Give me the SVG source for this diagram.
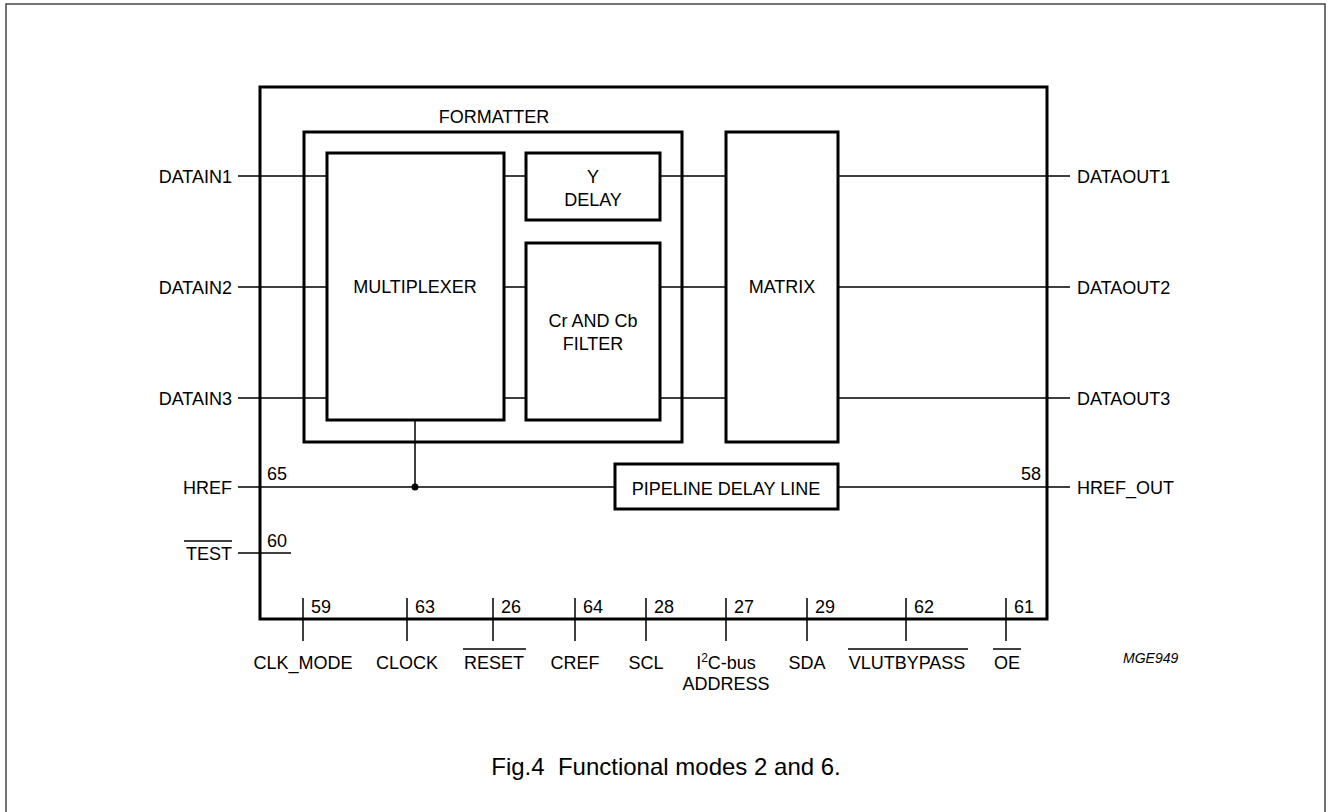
<svg xmlns="http://www.w3.org/2000/svg" width="1328" height="812" viewBox="0 0 1328 812">
<style>
text{font-family:"Liberation Sans",Arial,sans-serif;font-size:18px;fill:#000}
.box{fill:none;stroke:#000;stroke-width:3}
.w{fill:none;stroke:#000;stroke-width:1.5}
.c{text-anchor:middle}
.e{text-anchor:end}
.ol{stroke:#000;stroke-width:1.5}
</style>
<rect x="6" y="4" width="1319" height="820" fill="#fff" stroke="#444" stroke-width="1.5"/>
<g id="chip"><rect class="box" x="260" y="87" width="787" height="532"/></g>
<g id="formatter"><rect class="box" x="304" y="132" width="378" height="310"/><text class="c" x="494" y="123">FORMATTER</text></g>
<g id="multiplexer"><rect class="box" x="327" y="153" width="177" height="267"/><text class="c" x="415" y="293">MULTIPLEXER</text></g>
<g id="ydelay"><rect class="box" x="526" y="153" width="134" height="67"/><text class="c" x="593" y="183">Y</text><text class="c" x="593" y="206">DELAY</text></g>
<g id="filter"><rect class="box" x="526" y="243" width="134" height="177"/><text class="c" x="593" y="327">Cr AND Cb</text><text class="c" x="593" y="350">FILTER</text></g>
<g id="matrix"><rect class="box" x="726" y="132" width="112" height="310"/><text class="c" x="782" y="293">MATRIX</text></g>
<g id="pipeline"><rect class="box" x="615" y="464" width="223" height="45"/><text class="c" x="726" y="495">PIPELINE DELAY LINE</text></g>
<g id="connectors">
<path class="w" d="M238 176H327M238 287H327M238 398H327M504 176H526M504 287H526M504 398H526M660 176H726M660 287H726M660 398H726M838 176H1070M838 287H1070M838 398H1070M238 487H615M838 487H1070M415 420V487M238 553H291"/>
<circle cx="415" cy="487" r="3.5" fill="#000"/>
<path class="w" d="M303 598V641M407 598V641M493 598V641M575 598V641M646 598V641M726 598V641M807 598V641M906 598V641M1006 598V641"/>
</g>
<g id="pins-left">
<text class="e" x="232" y="183">DATAIN1</text>
<text class="e" x="232" y="294">DATAIN2</text>
<text class="e" x="232" y="405">DATAIN3</text>
<text class="e" x="232" y="494">HREF</text>
<text class="e" x="232" y="560">TEST</text><line class="ol" x1="184" y1="541" x2="232" y2="541"/>
<text x="267" y="480">65</text>
<text x="267" y="547">60</text>
</g>
<g id="pins-right">
<text x="1077" y="183">DATAOUT1</text>
<text x="1077" y="294">DATAOUT2</text>
<text x="1077" y="405">DATAOUT3</text>
<text x="1077" y="494">HREF_OUT</text>
<text class="e" x="1041" y="480">58</text>
</g>
<g id="pins-bottom">
<text x="311" y="613">59</text>
<text x="415" y="613">63</text>
<text x="501" y="613">26</text>
<text x="583" y="613">64</text>
<text x="654" y="613">28</text>
<text x="734" y="613">27</text>
<text x="815" y="613">29</text>
<text x="914" y="613">62</text>
<text x="1014" y="613">61</text>
<text class="c" x="303" y="669">CLK_MODE</text>
<text class="c" x="407" y="669">CLOCK</text>
<text class="c" x="494" y="669">RESET</text><line class="ol" x1="463" y1="649" x2="526" y2="649"/>
<text class="c" x="575" y="669">CREF</text>
<text class="c" x="646" y="669">SCL</text>
<text class="c" x="726" y="669">I<tspan font-size="12" dy="-7">2</tspan><tspan dy="7">C-bus</tspan></text>
<text class="c" x="726" y="690">ADDRESS</text>
<text class="c" x="807" y="669">SDA</text>
<text class="c" x="907" y="669">VLUTBYPASS</text><line class="ol" x1="848" y1="649" x2="968" y2="649"/>
<text class="c" x="1007" y="669">OE</text><line class="ol" x1="993" y1="649" x2="1021" y2="649"/>
</g>
<text x="1123" y="663" style="font-size:14px;font-style:italic">MGE949</text>
<text class="c" x="666" y="775" style="font-size:24px" xml:space="preserve">Fig.4  Functional modes 2 and 6.</text>
</svg>
